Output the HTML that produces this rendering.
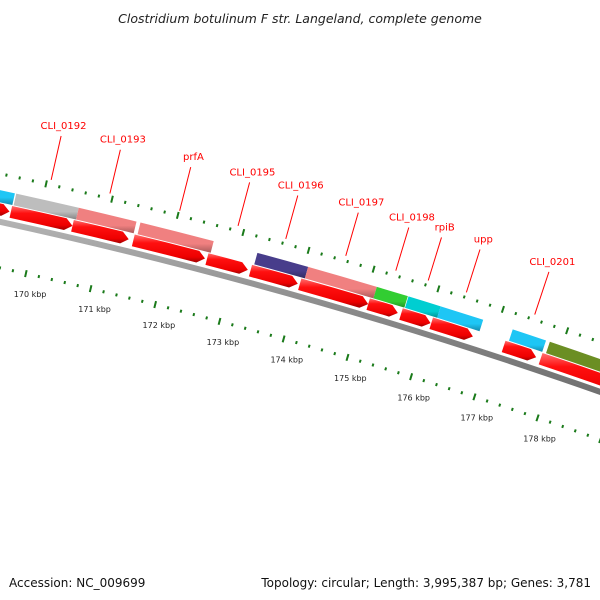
<!DOCTYPE html>
<html><head><meta charset="utf-8"><style>
html,body{margin:0;padding:0;background:#fff;}
svg{display:block;}
text{font-family:"DejaVu Sans","Liberation Sans",sans-serif;}
</style></head><body>
<svg id="map" width="600" height="600" viewBox="0 0 600 600">
<defs>
<linearGradient id="gRed" x1="0" y1="0" x2="0" y2="1"><stop offset="0" stop-color="#ff7070"/><stop offset="0.3" stop-color="#ff1010"/><stop offset="0.8" stop-color="#ee0000"/><stop offset="1" stop-color="#a00000"/></linearGradient>
<linearGradient id="gBack" x1="0" y1="0" x2="0" y2="1"><stop offset="0" stop-color="#c8c8c8"/><stop offset="0.5" stop-color="#8a8a8a"/><stop offset="1" stop-color="#606060"/></linearGradient>
</defs>
<text x="300" y="23" text-anchor="middle" font-size="12.5" font-style="italic" fill="#222">Clostridium botulinum F str. Langeland, complete genome</text>
<g id="plot"></g>
<text x="9" y="587" font-size="12" fill="#111">Accession: NC_009699</text>
<text x="591" y="587" text-anchor="end" font-size="12" fill="#111">Topology: circular; Length: 3,995,387 bp; Genes: 3,781</text>
</svg>
<script>
// data
const boxStarts = [168.6,169.6,170.55,171.49,173.28,174.06,175.12,175.61,176.11,177.23,177.81];
const boxEnds   = [169.58,170.55,171.43,172.61,174.06,175.12,175.6,176.11,176.77,177.75,179.4];
const boxColors = ["#1ec6f5","#bdbdbd","#f08080","#f08080","#483d8b","#f08080","#32cd32","#00ced1","#1ec6f5","#1ec6f5","#6b8e23"];
const cdsStarts = [168.6,169.58,170.52,171.45,172.58,173.25,174.01,175.07,175.58,176.05,177.18,177.76];
const cdsEnds   = [169.56,170.52,171.38,172.55,173.21,173.98,175.07,175.53,176.04,176.7,177.69,179.4];
const geneNames = ["CLI_0192","CLI_0193","prfA","CLI_0195","CLI_0196","CLI_0197","CLI_0198","rpiB","upp","CLI_0201"];
const genePos   = [170.06,170.95,172.01,172.9,173.63,174.55,175.32,175.82,176.41,177.47];
const tickLabels = ["167 kbp","168 kbp","169 kbp","170 kbp","171 kbp","172 kbp","173 kbp","174 kbp","175 kbp","176 kbp","177 kbp","178 kbp"];
const tickKbp = [167,168,169,170,171,172,173,174,175,176,177,178];

const CX=-1076, CY=5163, R=5057;
const NS="http://www.w3.org/2000/svg";
const plot=document.getElementById('plot');
function ang(k){return (12.70+(k-170)*0.76)*Math.PI/180;}
function pt(k,r){const a=ang(k);return [CX+r*Math.sin(a), CY-r*Math.cos(a)];}
function mk(tag,attrs){const e=document.createElementNS(NS,tag);for(const k in attrs)e.setAttribute(k,attrs[k]);plot.appendChild(e);return e;}
function sector(k1,k2,r1,r2){
  const a=pt(k1,r2),b=pt(k2,r2),c=pt(k2,r1),d=pt(k1,r1);
  return `M${a} A${r2},${r2} 0 0 1 ${b} L${c} A${r1},${r1} 0 0 0 ${d} Z`;
}
function darker(hex,f){const n=parseInt(hex.slice(1),16);const r=(n>>16)&255,g=(n>>8)&255,b=n&255;return `rgb(${Math.round(r*f)},${Math.round(g*f)},${Math.round(b*f)})`;}

// backbone
let bb=mk('path',{d:sector(166,181,R-3,R+3),fill:'url(#gBack)'});



// tick rings
for(let i=166*5;i<=181*5;i++){
  const k=i/5, major=(i%5===0);
  [[R+47,1],[R-45,-1]].forEach(([rr,s])=>{
    const h=major?3.5:1.5;
    const p1=pt(k,rr-h),p2=pt(k,rr+h);
    const t=mk('line',{x1:p1[0],y1:p1[1],x2:p2[0],y2:p2[1],stroke:'#1a7a1a','stroke-width':2});
    
    
  });
}
tickKbp.forEach((k,i)=>{
  const p=pt(k+0.13,R-64);
  const t=mk('text',{x:p[0],y:p[1]+3,'text-anchor':'middle','font-size':'8',fill:'#222'});
  t.textContent=tickLabels[i];
  
  
});

// feature boxes
boxStarts.forEach((s,i)=>{
  const g=document.createElementNS(NS,'linearGradient');
  g.setAttribute('id','gb'+i);g.setAttribute('x1','0');g.setAttribute('y1','0');g.setAttribute('x2','0');g.setAttribute('y2','1');
  g.innerHTML=`<stop offset="0" stop-color="${boxColors[i]}"/><stop offset="0.7" stop-color="${boxColors[i]}"/><stop offset="1" stop-color="${darker(boxColors[i],0.7)}"/>`;
  document.querySelector('defs').appendChild(g);
  const p=mk('path',{d:sector(s,boxEnds[i],R+19,R+31),fill:`url(#gb${i})`});
  
  
});

// CDS arrows
cdsStarts.forEach((s,i)=>{
  const e=cdsEnds[i], head=Math.min(0.11,(e-s)*0.4);
  const r1=R+6,r2=R+18,rm=R+12;
  const a=pt(s,r2),b=pt(e-head,r2),tip=pt(e,rm),c=pt(e-head,r1),d=pt(s,r1);
  const p=mk('path',{d:`M${a} A${r2},${r2} 0 0 1 ${b} L${tip} L${c} A${r1},${r1} 0 0 0 ${d} Z`,fill:'url(#gRed)'});
  
  
});

// gene labels
geneNames.forEach((n,i)=>{
  const k=genePos[i];
  const p1=pt(k,R+52),p2=pt(k,R+97),pl=pt(k,R+108);
  const l=mk('line',{x1:p1[0],y1:p1[1],x2:p2[0],y2:p2[1],stroke:'#ff0000','stroke-width':1});
  
  
  const t=mk('text',{x:pl[0],y:pl[1]+3.5,'text-anchor':'middle','font-size':'10',fill:'#ff0000'});
  t.textContent=n;
  
  
});
</script>
</body></html>
